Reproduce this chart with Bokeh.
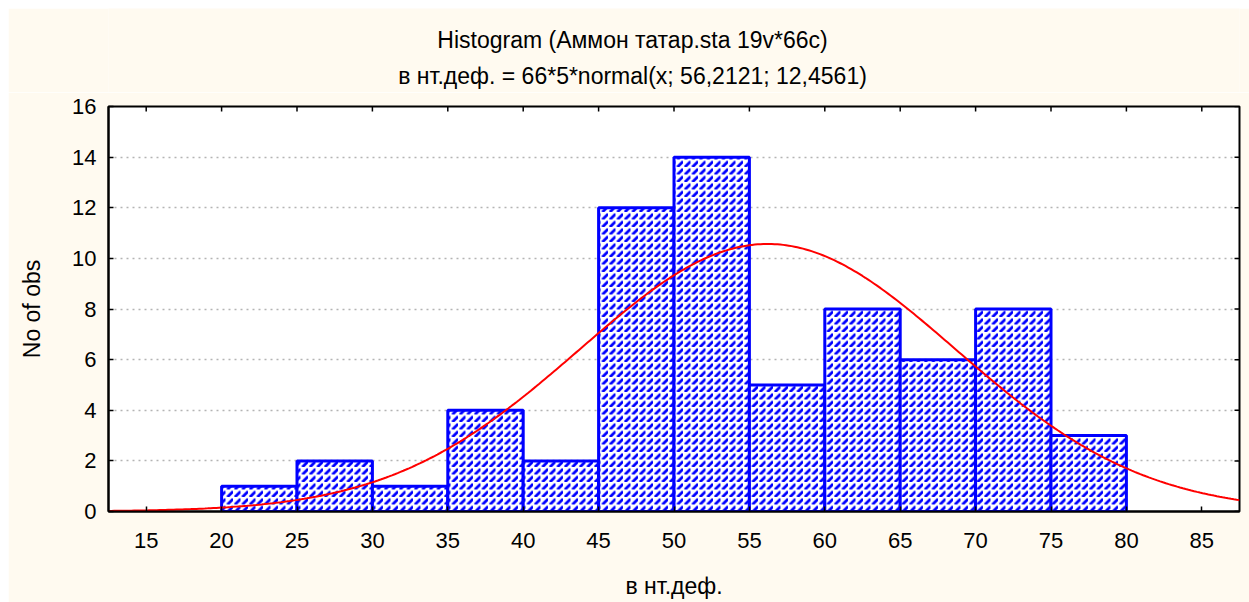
import numpy as np
from bokeh.plotting import figure
from bokeh.models import FixedTicker, Range1d, Spacer
from bokeh.core.properties import value
from bokeh.layouts import column, row
from bokeh.embed import file_html
from bokeh.resources import INLINE

# ---- data ----
bin_left = [20, 25, 30, 35, 40, 45, 50, 55, 60, 65, 70, 75]
bin_right = [25, 30, 35, 40, 45, 50, 55, 60, 65, 70, 75, 80]
counts = [1, 2, 1, 4, 2, 12, 14, 5, 8, 6, 8, 3]
x_ticks = [15, 20, 25, 30, 35, 40, 45, 50, 55, 60, 65, 70, 75, 80, 85]
y_ticks = [0, 2, 4, 6, 8, 10, 12, 14, 16]
# fitted curve parameters, as stated in the chart subtitle
n_obs = 66
bin_width = 5
fit_mean = 56.2121
fit_sd = 12.4561
title_line1 = "Histogram (Аммон татар.sta 19v*66c)"
title_line2 = "в нт.деф. = 66*5*normal(x; 56,2121; 12,4561)"
x_label = "в нт.деф."
y_label = "No of obs"

FONT = "Liberation Sans"
BG = "#FFFAF0"
X_MIN, X_MAX = 12.5, 87.5
Y_MIN, Y_MAX = 0, 16

W = 1241
BORDER_L, BORDER_R = 100, 10

curve_x = np.linspace(X_MIN, X_MAX, 400)
curve_y = n_obs * bin_width * np.exp(-0.5 * ((curve_x - fit_mean) / fit_sd) ** 2) / (fit_sd * np.sqrt(2 * np.pi))

# ---- title strip (its frame is aligned with the main frame; range in figure pixels) ----
TOP_H = 84
pt = figure(width=W, height=TOP_H, output_backend="svg", toolbar_location=None,
            x_range=Range1d(BORDER_L, W - BORDER_R), y_range=Range1d(TOP_H, 0),
            x_axis_location=None, y_axis_location=None, min_border=0,
            min_border_left=BORDER_L, min_border_right=BORDER_R)
pt.background_fill_color = BG
pt.border_fill_color = BG
pt.outline_line_color = None
pt.grid.grid_line_color = None
pt.text(x=[624, 624], y=[31.5, 67.5], text=[title_line1, title_line2],
        text_align="center", text_baseline="middle", text_font=value(FONT),
        text_font_size="23px", text_color="black")

# ---- main plot ----
p = figure(width=W, height=602 - 8 - TOP_H, output_backend="svg", toolbar_location=None,
           x_range=Range1d(X_MIN, X_MAX), y_range=Range1d(Y_MIN, Y_MAX),
           min_border_left=BORDER_L, min_border_right=BORDER_R, min_border_top=14, min_border_bottom=91)
p.background_fill_color = "white"
p.border_fill_color = BG
p.outline_line_color = "black"
p.outline_line_width = 2

p.quad(left=bin_left, right=bin_right, bottom=0, top=counts,
       fill_color="white", line_color="#0000FF", line_width=3,
       hatch_pattern="right_diagonal_dash", hatch_color="#0000FF",
       hatch_scale=7.5, hatch_weight=2.8)

p.line(curve_x, curve_y, line_color="#FF0000", line_width=2)

# inward tick marks on the top and right edges of the frame
p.segment(x0=x_ticks, x1=x_ticks, y0=[Y_MAX] * len(x_ticks), y1=[Y_MAX - 0.2] * len(x_ticks),
          line_color="black", line_width=1.5)
p.segment(x0=[X_MAX] * len(y_ticks), x1=[X_MAX - 0.33] * len(y_ticks), y0=y_ticks, y1=y_ticks,
          line_color="black", line_width=1.5)

for ax in (p.xaxis[0], p.yaxis[0]):
    ax.axis_line_color = "black"
    ax.axis_line_width = 2
    ax.major_tick_in = 5
    ax.major_tick_out = 0
    ax.major_tick_line_color = "black"
    ax.major_tick_line_width = 1.5
    ax.minor_tick_line_color = None
    ax.major_label_text_font = FONT
    ax.major_label_text_font_size = "22px"
    ax.major_label_text_color = "black"
    ax.axis_label_text_font = FONT
    ax.axis_label_text_font_size = "23px"
    ax.axis_label_text_font_style = "normal"
    ax.axis_label_text_color = "black"

p.xaxis[0].ticker = FixedTicker(ticks=x_ticks)
p.yaxis[0].ticker = FixedTicker(ticks=y_ticks)
p.xaxis[0].major_label_standoff = 21
p.yaxis[0].major_label_standoff = 12
p.xaxis[0].axis_label = x_label
p.xaxis[0].axis_label_standoff = 22
p.yaxis[0].axis_label = y_label
p.yaxis[0].axis_label_standoff = 24

p.xgrid.grid_line_color = None
p.ygrid.grid_line_color = "#b4b4b4"
p.ygrid.grid_line_dash = "2 4"
p.ygrid.grid_line_width = 1.5

layout = column(Spacer(height=8), row(Spacer(width=8), column(pt, p)))
open("out.html", "w").write(file_html(layout, INLINE))
